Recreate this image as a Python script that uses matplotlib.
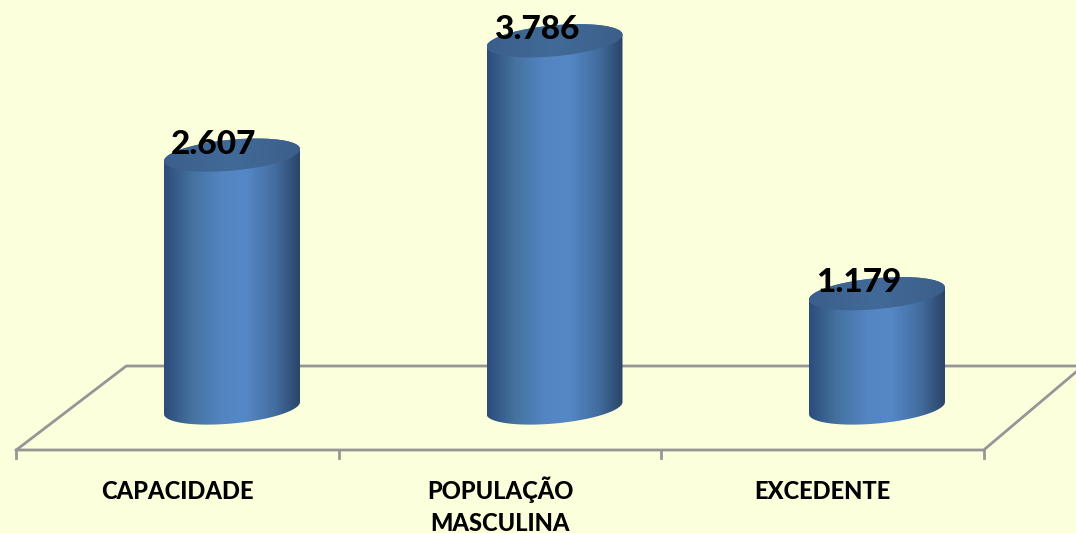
import matplotlib
matplotlib.use("Agg")
import matplotlib.pyplot as plt
from matplotlib.colors import LinearSegmentedColormap
from matplotlib.patches import Polygon
import numpy as np

categories = ["CAPACIDADE", "POPULAÇÃO\nMASCULINA", "EXCEDENTE"]
values = [2607, 3786, 1179]
value_labels = ["2.607", "3.786", "1.179"]

BG = "#fbffdb"
GRID = "#969696"
W, H = 1076, 533
STEP = 322.5      # px between categories
X0 = 232          # px of first bar centre
Y0 = 408          # px of value 0
PX_PER_UNIT = 0.097

plt.rcParams["font.family"] = ["Lato", "DejaVu Sans"]

fig = plt.figure(figsize=(W / 100, H / 100), dpi=100, facecolor=BG)
ax = fig.add_axes([0, 0, 1, 1])
ax.set_facecolor(BG)
xlim = (-X0 / STEP, (W - X0) / STEP)
ylim = ((Y0 - H) / PX_PER_UNIT, Y0 / PX_PER_UNIT)
ax.axis("off")

# cylinder sizes in axis units
half_w = 68 / STEP
rim_h = 15.5 / PX_PER_UNIT
tilt = 6 / PX_PER_UNIT  # right side sits higher than the left

body_cmap = LinearSegmentedColormap.from_list(
    "body", [(0, "#2c4c7a"), (0.2, "#44719f"), (0.42, "#5385c2"), (0.6, "#5688c8"),
             (0.82, "#426d9e"), (1, "#2b4468")])
top_cmap = LinearSegmentedColormap.from_list("top", ["#3a5f8c", "#426a98", "#3b5f8a"])

# floor of the 3d chart, in category units
back_y = (Y0 - 366) / PX_PER_UNIT
front_y = (Y0 - 450) / PX_PER_UNIT
tick_y = (Y0 - 458) / PX_PER_UNIT
edges = [i - 0.5 - 54.5 / STEP for i in range(len(values) + 1)]
back_left = edges[0] + 110 / STEP
ax.plot([edges[0], back_left, xlim[1]], [front_y, back_y, back_y], color=GRID, lw=2, zorder=1)
ax.plot([edges[0], edges[-1], xlim[1]], [front_y, front_y, (Y0 - 372) / PX_PER_UNIT],
        color=GRID, lw=2, zorder=1)
for e in edges:
    ax.plot([e, e], [front_y, tick_y], color=GRID, lw=2, zorder=1)

t = np.linspace(0, 2 * np.pi, 200)
for i, v in enumerate(values):
    dx = half_w * np.cos(t)
    lower = t >= np.pi  # lower half of the rim
    base_x = i + dx
    base_y = rim_h * np.sin(t) + tilt * np.cos(t)

    # body outline: bottom rim + top rim
    order = np.argsort(base_x[lower])
    bx, by = base_x[lower][order], base_y[lower][order]
    up = ~lower
    order = np.argsort(-base_x[up])
    tx, ty = base_x[up][order], base_y[up][order] + v
    body = Polygon(np.column_stack([np.r_[bx, tx], np.r_[by, ty]]), closed=True,
                   fc="none", ec="none", zorder=2)
    ax.add_patch(body)
    grad = np.linspace(0, 1, 256).reshape(1, -1)
    im = ax.imshow(grad, cmap=body_cmap, aspect="auto", zorder=2,
                   extent=(i - half_w, i + half_w, -rim_h * 2, v + rim_h * 2))
    im.set_clip_path(body)

    # top cap
    cap = Polygon(np.column_stack([base_x, base_y + v]), closed=True, fc="none", ec="none", zorder=3)
    ax.add_patch(cap)
    im = ax.imshow(grad, cmap=top_cmap, aspect="auto", zorder=3,
                   extent=(i - half_w, i + half_w, v - rim_h * 2, v + rim_h * 2))
    im.set_clip_path(cap)

    ax.text(i - 18 / STEP, v + 11 / PX_PER_UNIT, value_labels[i], ha="center", va="center",
            fontsize=24, fontweight=900, color="black", zorder=4)

# category names, one text per line so the accents don't shift the baseline
for i, name in enumerate(categories):
    for k, line in enumerate(name.split("\n")):
        ax.text(i - 54.5 / STEP, (Y0 - 499 - 32 * k) / PX_PER_UNIT, line, ha="center",
                va="baseline", fontsize=17, fontweight=900, color="black", zorder=4)

ax.set_xlim(xlim)
ax.set_ylim(ylim)
fig.savefig("out.png", dpi=100, facecolor=BG)
